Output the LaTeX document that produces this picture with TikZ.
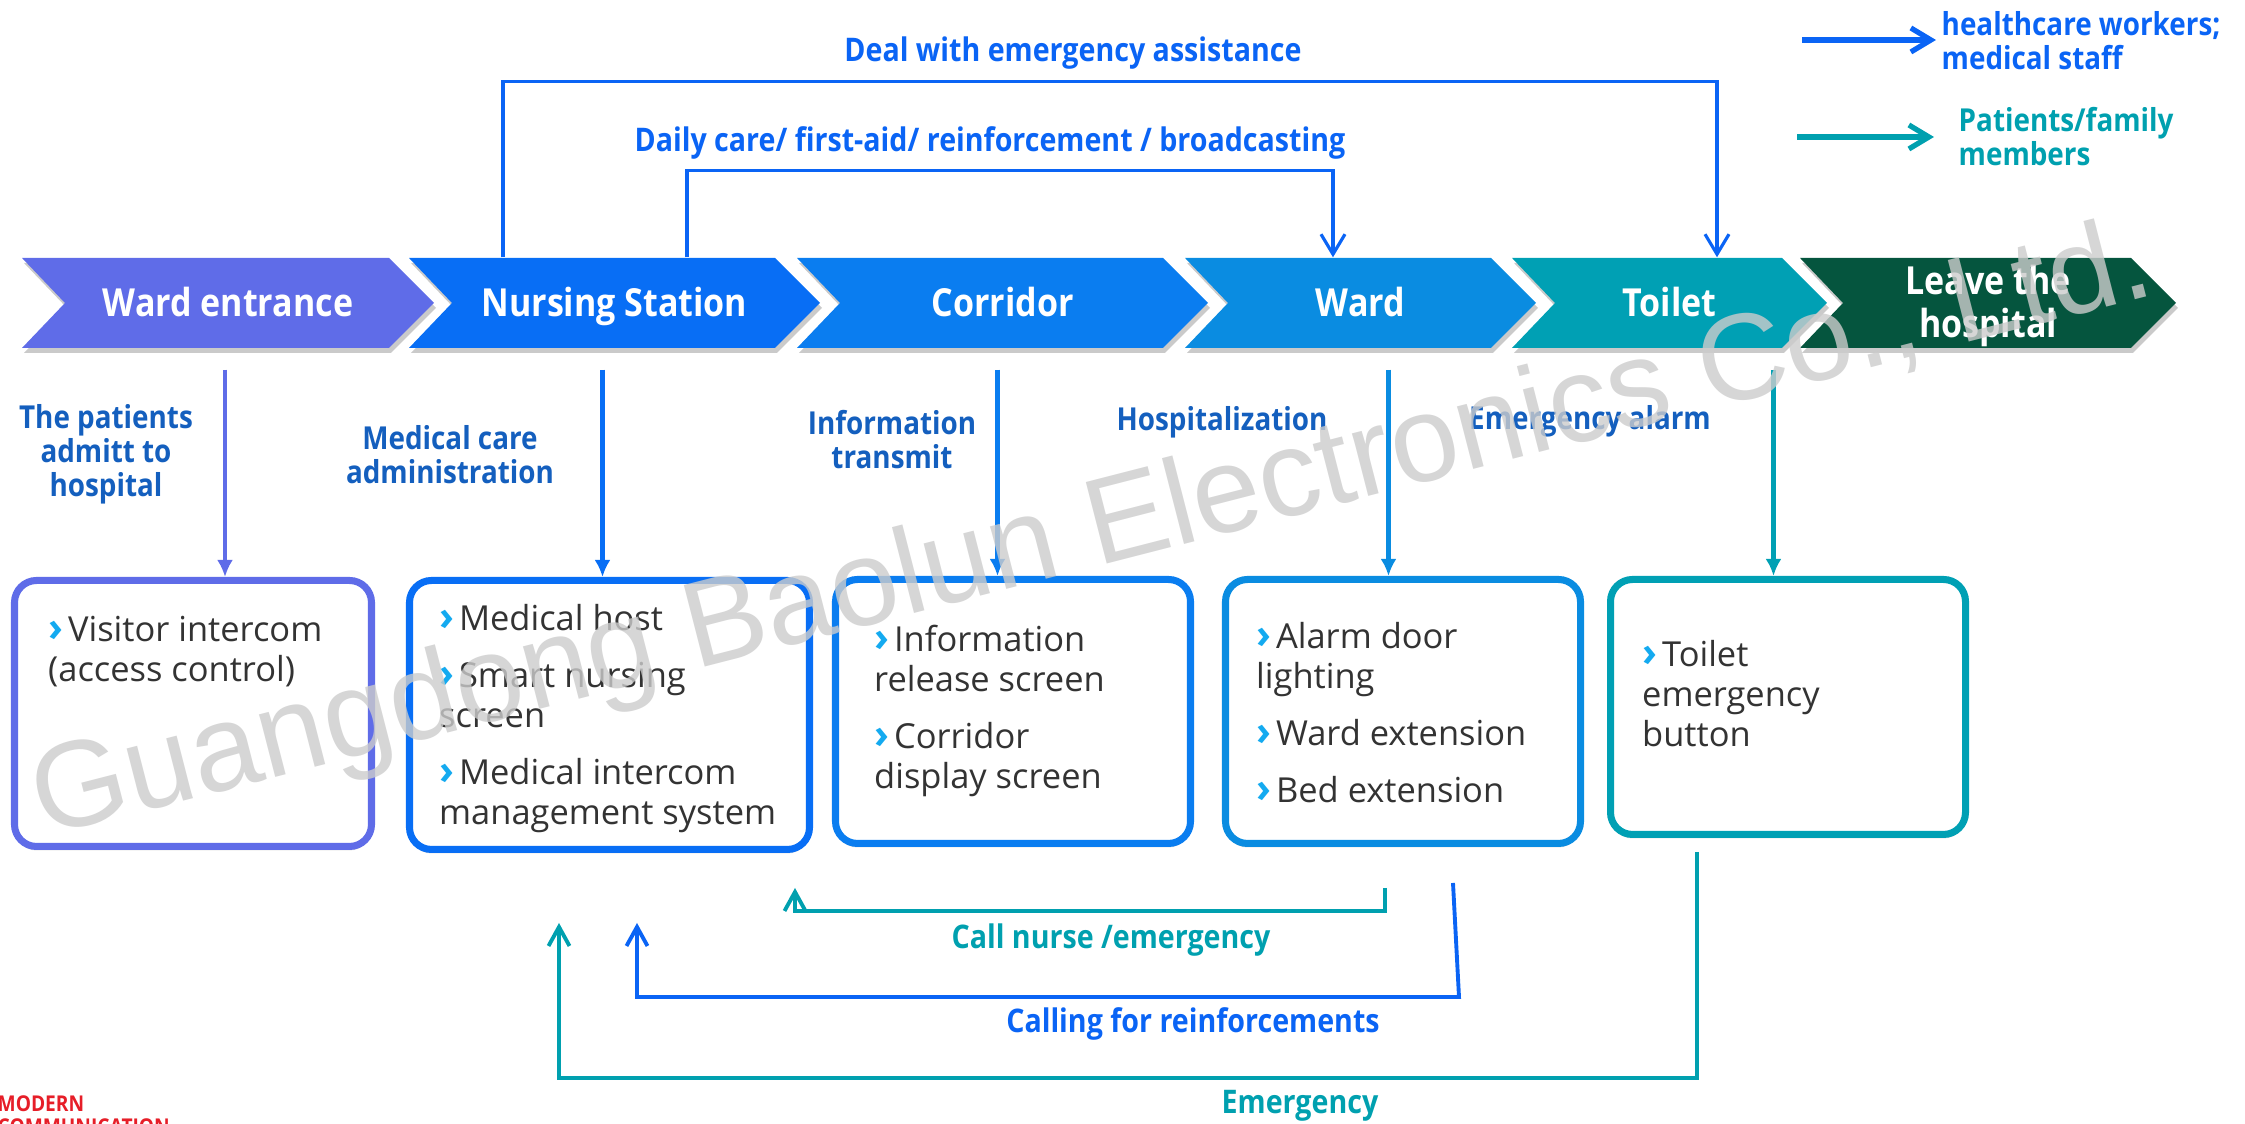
\documentclass[tikz,border=0pt]{standalone}
\usepackage{fontspec}
\setmainfont{Open Sans}
\newfontfamily\lblfont{Open Sans}[FakeStretch=0.88]
\newfontfamily\wmfont{Liberation Sans}
\usepackage{xcolor}
\usetikzlibrary{arrows.meta,shadows}

\definecolor{entrcol}{RGB}{95,108,232}
\definecolor{nursecol}{RGB}{8,110,245}
\definecolor{corrcol}{RGB}{10,125,240}
\definecolor{wardcol}{RGB}{10,140,225}
\definecolor{toilcol}{RGB}{0,160,180}
\definecolor{leavecol}{RGB}{5,85,62}
\definecolor{linkblue}{RGB}{10,100,245}
\definecolor{tealcol}{RGB}{0,160,175}
\definecolor{lblblue}{RGB}{20,95,190}
\definecolor{itemgray}{RGB}{51,51,51}
\definecolor{bulletcol}{RGB}{20,170,240}
\definecolor{modred}{RGB}{230,30,40}

\newcommand{\itemmark}{{\color{bulletcol}\bfseries\fontsize{11.5}{11.4}\selectfont ›}\hspace{0.05cm}}

\begin{document}
\begin{tikzpicture}[
    chevtext/.style={text=white, align=center, inner sep=0pt, minimum height=0.96cm,
      font=\lblfont\bfseries\fontsize{11}{12}\selectfont},
    chevshadow/.style={drop shadow={shadow xshift=0.02cm, shadow yshift=-0.05cm, opacity=0.35, fill=black!60}},
    stagelbl/.style={text=lblblue, align=center, inner sep=0pt,
      font=\lblfont\bfseries\fontsize{9}{9.7}\selectfont},
    toplbl/.style={stagelbl, text=linkblue, font=\lblfont\bfseries\fontsize{9.25}{9.7}\selectfont},
    legtxt/.style={stagelbl, anchor=west, align=left},
    devbox/.style={draw, line width=2pt, rounded corners=0.22cm, inner sep=0pt, fill=white,
      drop shadow={shadow xshift=0cm, shadow yshift=-0.04cm, opacity=0.25, fill=black!50}},
    itemtxt/.style={anchor=base west, align=left, inner sep=0pt, text=itemgray,
      font=\fontsize{9.8}{11.4}\selectfont},
    downarrow/.style={line width=1.2pt, -{Latex[length=0.17cm, width=0.16cm]}},
    toplink/.style={draw=linkblue, line width=0.9pt, -{Straight Barb[length=0.2cm, width=0.24cm]}},
    botlink/.style={line width=1.1pt, -{Straight Barb[length=0.19cm, width=0.21cm]}},
    legarrow/.style={line width=1.5pt, -{Straight Barb[length=0.2cm, width=0.24cm]}}
  ]
  \useasboundingbox (0,0) rectangle (22.45,11.24);

  % the chevron band of the stages
  \foreach \nm/\lx/\rx/\col/\txt in {
      entr/0.22/3.89/entrcol/Ward entrance,
      nurse/4.09/7.75/nursecol/Nursing Station,
      corr/7.97/11.63/corrcol/Corridor,
      ward/11.85/14.91/wardcol/Ward,
      toil/15.12/17.82/toilcol/Toilet,
      leave/18.00/21.31/leavecol/Leave the\\hospital}{
    \fill[\col, chevshadow] (\lx,7.76) -- (\rx,7.76) -- ({\rx+0.45},8.21) -- (\rx,8.66)
      -- (\lx,8.66) -- ({\lx+0.43},8.21) -- cycle;
    \node[chevtext] (\nm) at ({(\lx+\rx+0.45)/2},8.18) {\txt\vphantom{dg}};
  }

  % labels under the band
  \node[stagelbl] (admit) at (1.06,6.70) {The patients\\admitt to\\hospital};
  \node[stagelbl] (admin) at (4.50,6.69) {Medical care\\administration};
  \node[stagelbl] (info) at (8.92,6.84) {Information\\transmit};
  \node[stagelbl] (hosp) at (12.22,7.02) {Hospitalization};
  \node[stagelbl] (alarm) at (15.90,7.03) {Emergency alarm};

  % device boxes
  \node[devbox, draw=entrcol, minimum width=3.57cm, minimum height=2.66cm] (visit) at (1.93,4.105) {};
  \node[devbox, draw=nursecol, minimum width=4.00cm, minimum height=2.69cm] (nursebox) at (6.095,4.09) {};
  \node[devbox, draw=corrcol, minimum width=3.55cm, minimum height=2.64cm] (corrbox) at (10.13,4.125) {};
  \node[devbox, draw=wardcol, minimum width=3.55cm, minimum height=2.64cm] (wardbox) at (14.03,4.125) {};
  \node[devbox, draw=toilcol, minimum width=3.55cm, minimum height=2.55cm] (toilbox) at (17.88,4.17) {};

  % box texts, placed by the baseline of their last line
  \node[itemtxt] (visittxt) at ([xshift=0.365cm, yshift=-1.045cm]visit.north west)
    {\itemmark Visitor intercom\\(access control)};
  \node[itemtxt] (nursetxt) at ([xshift=0.325cm, yshift=-2.475cm]nursebox.north west)
    {\itemmark Medical host\\[0.17cm]\itemmark Smart nursing\\screen\\[0.17cm]\itemmark Medical intercom\\management system};
  \node[itemtxt] (corrtxt) at ([xshift=0.415cm, yshift=-2.125cm]corrbox.north west)
    {\itemmark Information\\release screen\\[0.17cm]\itemmark Corridor\\display screen};
  \node[itemtxt] (wardtxt) at ([xshift=0.335cm, yshift=-2.265cm]wardbox.north west)
    {\itemmark Alarm door\\lighting\\[0.17cm]\itemmark Ward extension\\[0.17cm]\itemmark Bed extension};
  \node[itemtxt] (toiltxt) at ([xshift=0.345cm, yshift=-1.705cm]toilbox.north west)
    {\itemmark Toilet\\emergency\\button};

  % arrows from the band down to the boxes
  \draw[downarrow, entrcol] ([xshift=-0.03cm, yshift=-0.15cm]entr.south) -- ([xshift=-0.03cm]entr.south |- visit.north);
  \draw[downarrow, nursecol] ([xshift=-0.12cm, yshift=-0.15cm]nurse.south) -- ([xshift=-0.12cm]nurse.south |- nursebox.north);
  \draw[downarrow, corrcol] ([xshift=-0.05cm, yshift=-0.15cm]corr.south) -- ([xshift=-0.05cm]corr.south |- corrbox.north);
  \draw[downarrow, wardcol] ([xshift=0.28cm, yshift=-0.15cm]ward.south) -- ([xshift=0.28cm]ward.south |- wardbox.north);
  \draw[downarrow, toilcol] ([xshift=1.04cm, yshift=-0.15cm]toil.south) -- ([xshift=1.04cm]toil.south |- toilbox.north);

  % connectors above the band
  \node[toplbl] (deal) at (10.73,10.71) {Deal with emergency assistance};
  \node[toplbl] (daily) at (9.90,9.81) {Daily care/ first-aid/ reinforcement / broadcasting};
  \draw[toplink] ([xshift=-1.115cm]nurse.north) -- ++(0,1.76) -| ([xshift=0.475cm]toil.north);
  \draw[toplink] ([xshift=0.725cm]nurse.north) -- ++(0,0.87) -| ([xshift=-0.275cm]ward.north);

  % return connectors below the boxes
  \coordinate (callS) at (13.85,2.36);
  \coordinate (callE) at (7.95,2.36);
  \coordinate (reinfS) at (14.53,2.41);
  \coordinate (reinfK) at (14.59,1.27);
  \coordinate (reinfE) at (6.37,2.01);
  \coordinate (emgS) at (16.97,2.72);
  \coordinate (emgE) at (5.59,2.01);
  \draw[botlink, tealcol] (callS) -- ++(0,-0.23) -| (callE);
  \draw[botlink, linkblue] (reinfS) -- (reinfK) -| (reinfE);
  \draw[botlink, tealcol] (emgS) -- ++(0,-2.26) -| (emgE);
  \node[toplbl, text=tealcol] (callnurse) at (11.11,1.84) {Call nurse /emergency};
  \node[toplbl, text=linkblue] (reinf) at (11.93,1.00) {Calling for reinforcements};
  \node[toplbl, text=tealcol] (emerg) at (13.00,0.18) {Emergency};

  % legend
  \node[legtxt, text=linkblue] (staff) at (19.41,10.83) {healthcare workers;\\medical staff};
  \node[legtxt, text=tealcol] (family) at (19.58,9.87) {Patients/family\\members};
  \coordinate (staffarr) at (18.02,10.84);
  \coordinate (familyarr) at (17.97,9.87);
  \draw[legarrow, linkblue] (staffarr) -- ([xshift=-0.05cm]staff.west |- staffarr);
  \draw[legarrow, tealcol] (familyarr) -- ([xshift=-0.24cm]family.west);

  % corner logo text and watermark
  \node[anchor=base west, inner sep=0pt, align=left, text=modred,
    font=\lblfont\bfseries\fontsize{6.2}{6.6}\selectfont] (brand) at (-0.03,-0.11) {MODERN\\COMMUNICATION};
  \node[anchor=base west, inner sep=0pt, rotate=14.4, text=black!20, text opacity=0.8,
    font=\wmfont\fontsize{34.8}{40}\selectfont] (mark) at (0.43,2.87) {Guangdong Baolun Electronics Co., Ltd.};
\end{tikzpicture}
\end{document}
